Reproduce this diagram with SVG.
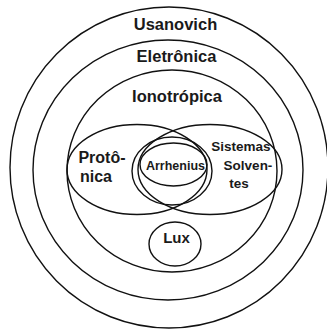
<svg xmlns="http://www.w3.org/2000/svg" width="327" height="331" viewBox="0 0 327 331">
<style>
.s{fill:none;stroke:#111;stroke-width:1.4}
.t{font-family:"Liberation Sans",Arial,sans-serif;font-weight:bold;fill:#1a1a1a;text-anchor:middle}
</style>
<rect width="327" height="331" fill="#fff"/>
<g id="usanovich"><ellipse class="s" cx="169" cy="167.5" rx="159" ry="160.5"/><text class="t" x="175.5" y="30" font-size="16.5">Usanovich</text></g>
<g id="eletronica"><ellipse class="s" cx="168" cy="170" rx="135" ry="130"/><text class="t" x="176.5" y="62" font-size="16.5">Eletrônica</text></g>
<g id="ionotropica"><ellipse class="s" cx="172" cy="171" rx="105" ry="101"/><text class="t" x="177" y="102" font-size="16.5">Ionotrópica</text></g>
<g id="protonica"><ellipse class="s" cx="137" cy="169.5" rx="70" ry="45"/><text class="t" x="102" y="163" font-size="16">Protô-</text><text class="t" x="96" y="182" font-size="16">nica</text></g>
<g id="sistemas"><ellipse class="s" cx="210" cy="169.5" rx="72" ry="45"/><text class="t" x="241" y="151" font-size="13.5">Sistemas</text><text class="t" x="248" y="170" font-size="13.5">Solven-</text><text class="t" x="239" y="188" font-size="13.5">tes</text></g>
<g id="arrhenius"><ellipse class="s" cx="172" cy="171" rx="40" ry="34"/><ellipse class="s" cx="173.5" cy="164.5" rx="33.5" ry="21.5"/><text class="t" x="175.5" y="170" font-size="12.5">Arrhenius</text></g>
<g id="lux"><ellipse class="s" cx="175" cy="244" rx="26" ry="22"/><text class="t" x="176.5" y="243" font-size="15">Lux</text></g>
<g id="connectors"/>
</svg>
